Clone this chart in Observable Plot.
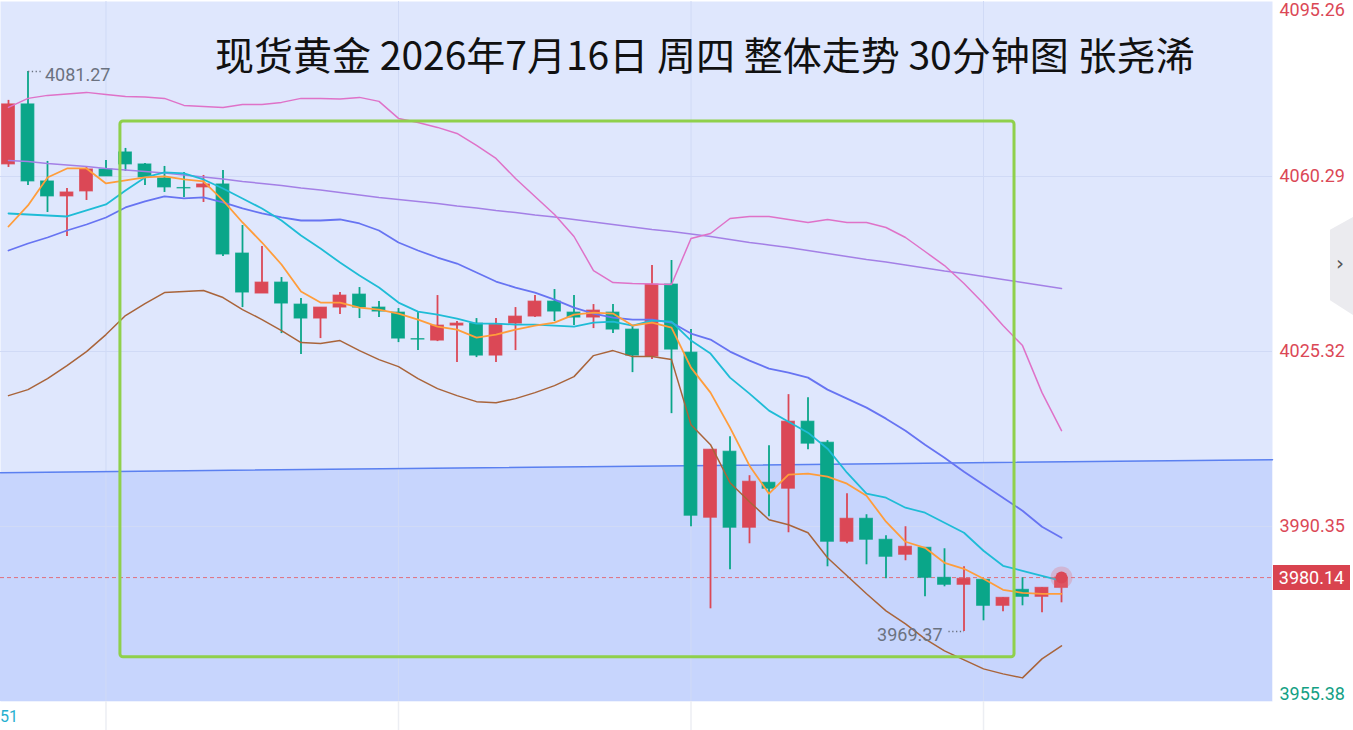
<!DOCTYPE html>
<html><head><meta charset="utf-8">
<script src="https://cdn.jsdelivr.net/npm/d3@7"></script>
<script src="https://cdn.jsdelivr.net/npm/@observablehq/plot@0.6"></script>
<style>
body{margin:0;background:#fff;overflow:hidden;font-family:Roboto,"Noto Sans",sans-serif}
#wrap{position:relative;width:1353px;height:730px;overflow:hidden}
#title{position:absolute;left:215px;top:31px;font-family:"Noto Sans CJK SC";font-size:39px;line-height:44px;color:#111;white-space:nowrap}
#tab{position:absolute;left:1330px;top:217px;width:23px;height:98px;background:#ebebef;clip-path:polygon(0 13%,100% 0,100% 100%,0 85%)}
#tab span{position:absolute;left:6px;top:36px;font:20px/20px "DejaVu Sans";color:#555}
#tag{position:absolute;left:1273px;width:77px;height:25px;background:#d9434f;color:#fff;font:18px/25px Roboto;text-align:center}
#bl{position:absolute;left:0px;top:708px;font:16px/18px Roboto;color:#26b0d0}
</style></head><body>
<div id="wrap"><div id="chart"></div>
<div id="title">现货黄金 2026年7月16日 周四 整体走势 30分钟图 张尧浠</div>
<div id="tab"><span>›</span></div>
<div id="tag"></div>
<div id="bl">51</div>
</div>
<script>
const opens=[4062.7,4074.7,4059.3,4056.3,4057.3,4061.7,4065.1,4062.7,4059.9,4058.0,4058.1,4058.7,4044.9,4036.9,4039.1,4034.7,4031.9,4034.1,4036.7,4034.1,4033.1,4027.8,4027.5,4030.5,4030.9,4024.5,4030.9,4032.3,4035.3,4033.1,4032.1,4033.1,4029.7,4024.3,4038.7,4025.1,3992.1,4005.3,3990.1,3999.1,3997.9,4011.3,4007.1,3987.3,3991.9,3987.7,3984.7,3986.1,3980.1,3978.7,3979.7,3974.5,3977.7,3976.3,3978.1];
const highs=[4075.5,4081.27,4063.3,4057.9,4062.1,4063.5,4065.9,4062.9,4062.3,4061.1,4060.5,4061.5,4050.5,4046.3,4040.1,4035.9,4034.1,4037.1,4038.1,4035.3,4033.9,4033.1,4036.5,4031.3,4031.9,4031.9,4034.1,4036.5,4037.7,4036.5,4034.7,4034.7,4030.3,4042.5,4043.5,4029.7,4005.7,4008.3,4000.5,4006.5,4016.7,4016.1,4007.5,3996.9,3992.7,3988.5,3990.3,3986.1,3985.9,3982.3,3979.7,3976.1,3980.1,3978.1,3980.5];
const lows=[4062.1,4058.5,4053.1,4048.3,4055.5,4060.3,4061.3,4058.5,4057.1,4056.1,4055.1,4044.3,4034.1,4036.9,4028.9,4024.7,4027.9,4032.7,4031.9,4032.1,4027.1,4025.5,4027.3,4023.1,4024.1,4023.1,4025.5,4032.1,4031.3,4030.5,4029.9,4028.9,4021.1,4023.7,4012.9,3990.3,3973.9,3981.7,3986.9,3992.3,3989.1,4005.7,3982.3,3986.9,3982.7,3979.9,3983.5,3976.3,3978.3,3969.37,3971.5,3973.3,3974.5,3973.1,3975.1];
const closes=[4074.7,4059.3,4056.3,4057.1,4061.7,4060.3,4062.7,4060.1,4058.1,4057.9,4058.7,4044.7,4037.1,4039.1,4034.9,4031.9,4034.1,4036.5,4034.1,4033.3,4027.9,4027.7,4030.5,4030.9,4024.5,4030.7,4032.3,4035.3,4033.3,4032.1,4033.5,4029.7,4024.5,4038.7,4025.7,3992.5,4005.7,3990.1,3999.3,3997.9,4011.3,4006.9,3987.3,3991.9,3987.7,3984.3,3986.3,3980.1,3978.7,3979.9,3974.5,3976.1,3976.3,3978.1,3980.14];
const ma5=[4050.3,4054.5,4060.1,4061.9,4061.9,4058.9,4059.5,4060.1,4060.3,4059.7,4059.3,4055.5,4051.1,4047.1,4042.7,4037.3,4035.1,4035.1,4034.1,4033.7,4032.9,4031.7,4030.3,4029.7,4028.1,4028.7,4029.7,4030.5,4031.1,4032.7,4033.1,4032.9,4030.5,4031.1,4030.1,4022.1,4017.1,4010.1,4002.5,3996.9,4000.7,4000.9,4000.3,3998.9,3996.5,3991.3,3987.3,3986.1,3983.1,3981.9,3979.9,3977.7,3977.1,3976.9,3976.9];
const ma10=[4052.9,4052.7,4052.5,4052.3,4053.5,4054.7,4057.5,4060.1,4061.1,4060.9,4059.7,4057.9,4055.9,4053.9,4051.5,4048.5,4045.9,4043.1,4040.5,4038.1,4035.1,4033.3,4032.7,4031.9,4030.9,4030.9,4030.7,4030.7,4030.5,4030.3,4031.1,4031.3,4030.5,4031.5,4031.3,4027.5,4024.9,4020.1,4016.9,4013.5,4011.3,4009.1,4005.9,4001.1,3996.9,3996.1,3994.1,3993.1,3991.1,3989.1,3985.5,3982.5,3981.5,3980.5,3979.5];
const ma20=[4045.5,4046.9,4048.1,4049.5,4050.7,4052.1,4054.1,4055.3,4056.3,4055.9,4056.1,4055.1,4053.9,4052.9,4052.1,4051.5,4051.5,4051.7,4050.9,4049.5,4047.1,4045.5,4044.1,4042.9,4041.1,4039.3,4038.1,4037.1,4035.7,4034.1,4032.9,4032.1,4031.7,4031.7,4031.1,4028.9,4027.7,4025.3,4023.5,4021.9,4021.1,4020.1,4017.7,4015.9,4014.1,4011.9,4009.5,4006.7,4004.1,4001.3,3998.7,3996.1,3993.5,3990.3,3988.1];
const ma60=[4063.5,4063.3,4062.9,4062.6,4062.3,4061.9,4061.6,4061.3,4061.0,4060.6,4060.2,4059.8,4059.3,4058.9,4058.5,4058.0,4057.6,4057.1,4056.6,4056.1,4055.7,4055.3,4054.9,4054.4,4054.0,4053.5,4053.1,4052.6,4052.2,4051.7,4051.2,4050.7,4050.2,4049.7,4049.3,4048.8,4048.3,4047.7,4047.1,4046.6,4046.1,4045.5,4044.9,4044.3,4043.7,4043.2,4042.6,4042.0,4041.4,4040.9,4040.3,4039.7,4039.1,4038.5,4037.9];
const bollUp=[4074.1,4075.9,4076.5,4076.8,4077.1,4076.7,4076.3,4076.2,4075.9,4074.5,4074.3,4074.1,4074.7,4074.7,4075.1,4075.9,4075.9,4075.8,4076.1,4075.3,4071.9,4071.1,4070.1,4068.9,4066.5,4063.9,4059.9,4056.3,4052.7,4048.3,4041.5,4039.1,4038.9,4038.8,4038.7,4047.9,4048.9,4051.9,4052.3,4052.3,4051.7,4051.1,4051.7,4051.1,4051.1,4050.1,4048.1,4045.3,4042.5,4038.9,4034.9,4030.5,4026.5,4017.1,4009.5];
const bollDn=[4016.5,4017.7,4019.9,4022.5,4025.3,4028.7,4032.5,4034.9,4037.1,4037.3,4037.5,4036.1,4033.7,4031.7,4029.5,4027.1,4026.9,4027.5,4025.5,4023.7,4022.3,4019.9,4017.9,4016.5,4015.3,4015.1,4015.9,4017.1,4018.5,4020.3,4024.5,4025.5,4024.3,4024.3,4023.7,4010.7,4006.7,3999.1,3995.3,3991.7,3990.7,3989.1,3984.1,3980.5,3976.9,3973.5,3970.9,3967.9,3965.5,3963.7,3961.9,3960.9,3960.1,3963.9,3966.5];
const yTicks=[4095.26,4060.29,4025.32,3990.35,3955.38];
const gridX=[5,20,35,50];
const trendX=[-0.41,64.82];
const trendY=[4001.1,4003.7];
const boxX=[5.74,51.59];
const boxY=[3964.2,4071.3];
const hiLabel={i:1,v:4081.27};
const loLabel={i:49,v:3969.37};
const lastPrice=3980.14;

const RED="#db4856", GREEN="#0aa689";
const yMin=yTicks[4], yMax=yTicks[0];
const candles=opens.map((o,i)=>({i,o,h:highs[i],l:lows[i],c:closes[i]}));
const col=d=>d.c>=d.o?RED:GREEN;
const series=(arr)=>arr.map((v,i)=>({i,v}));
const trend=trendX.map((x,k)=>({x,y:trendY[k]}));
const lineOpt=(stroke,w)=>({x:"i",y:"v",stroke,strokeWidth:w,curve:"linear"});

const chart=Plot.plot({
  width:1353,height:730,
  marginLeft:0,marginRight:81,marginTop:1,marginBottom:29,
  style:{background:"transparent",overflow:"visible"},
  x:{domain:[-0.41,64.82],axis:null},
  y:{domain:[yMin,yMax],axis:null},
  marks:[
    Plot.frame({fill:"#dfe7fd",stroke:"none"}),
    Plot.areaY(trend,{x:"x",y1:yMin,y2:"y",fill:"#c7d5fd"}),
    Plot.ruleY(yTicks.slice(1,4),{stroke:"#d0daf6",strokeWidth:1}),
    Plot.ruleX(gridX,{y1:yMin,y2:yMax,stroke:"#d0daf6",strokeWidth:1}),
    Plot.ruleX(gridX,{y1:yMin,y2:yMin-6,stroke:"#eceef3",strokeWidth:1.5}),
    Plot.line(trend,{x:"x",y:"y",stroke:"#5b80f0",strokeWidth:1.5}),
    Plot.ruleY([lastPrice],{stroke:"#e06f7c",strokeWidth:1,strokeDasharray:"4,3"}),
    Plot.ruleX(candles,{x:"i",y1:"l",y2:"h",stroke:col,strokeWidth:1.8}),
    Plot.rect(candles,{x1:d=>d.i-0.33,x2:d=>d.i+0.33,y1:"o",y2:"c",fill:col,stroke:col,strokeWidth:1,strokeOpacity:0.75}),
    Plot.line(series(ma60),lineOpt("#a480e6",1.5)),
    Plot.line(series(bollUp),lineOpt("#df72c8",1.5)),
    Plot.line(series(bollDn),lineOpt("#a9643a",1.5)),
    Plot.line(series(ma20),lineOpt("#6774f2",1.8)),
    Plot.line(series(ma10),lineOpt("#1fbcd6",1.8)),
    Plot.line(series(ma5),lineOpt("#ff9d3b",1.8)),
    Plot.dot([{i:opens.length-1,v:lastPrice}],{x:"i",y:"v",r:11,fill:"#e46f7c",fillOpacity:0.3}),
    Plot.dot([{i:opens.length-1,v:lastPrice}],{x:"i",y:"v",r:6,fill:RED}),
    Plot.rect([{x1:boxX[0],x2:boxX[1],y1:boxY[0],y2:boxY[1]}],{x1:"x1",x2:"x2",y1:"y1",y2:"y2",fill:"none",stroke:"#8fd04b",strokeWidth:3,rx:3}),
    Plot.link([hiLabel],{x1:d=>d.i,x2:d=>d.i+0.75,y1:"v",y2:"v",stroke:"#6b7280",strokeWidth:1.3,strokeDasharray:"1.3,2.5"}),
    Plot.text([hiLabel],{x:d=>d.i+0.87,y:"v",text:d=>d.v.toFixed(2),textAnchor:"start",dy:4,fill:"#6b7280",fontSize:18,fontFamily:"Roboto"}),
    Plot.link([loLabel],{x1:d=>d.i-0.8,x2:d=>d.i,y1:"v",y2:"v",stroke:"#6b7280",strokeWidth:1.3,strokeDasharray:"1.3,2.5"}),
    Plot.text([loLabel],{x:d=>d.i-1.1,y:"v",text:d=>d.v.toFixed(2),textAnchor:"end",dy:4,fill:"#6b7280",fontSize:18,fontFamily:"Roboto"}),
    Plot.text(yTicks.slice(1,4),{y:d=>d,frameAnchor:"right",dx:7,textAnchor:"start",text:d=>d.toFixed(2),fill:RED,fontSize:18,fontFamily:"Roboto"}),
    Plot.text([yTicks[0]],{y:d=>d,frameAnchor:"right",dx:7,textAnchor:"start",lineAnchor:"top",dy:2,text:d=>d.toFixed(2),fill:RED,fontSize:18,fontFamily:"Roboto"}),
    Plot.text([yTicks[4]],{y:d=>d,frameAnchor:"right",dx:7,textAnchor:"start",lineAnchor:"bottom",dy:-2,text:d=>d.toFixed(2),fill:"#13a084",fontSize:18,fontFamily:"Roboto"})
  ]
});
document.getElementById("chart").appendChild(chart);
const tag=document.getElementById("tag");
tag.textContent=lastPrice.toFixed(2);
tag.style.top=(chart.scale("y").apply(lastPrice)-12.5)+"px";
</script>
</body></html>
